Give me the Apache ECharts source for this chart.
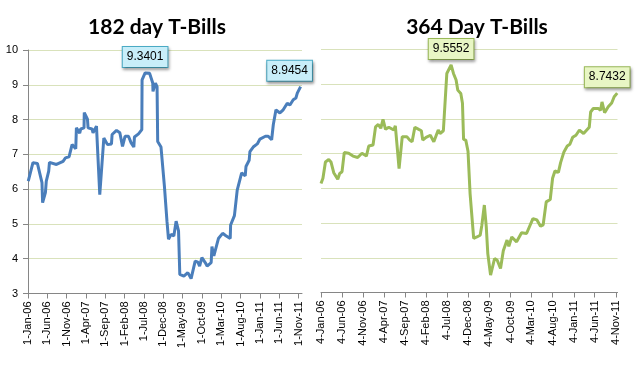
<!DOCTYPE html>
<html><head><meta charset="utf-8">
<script src="https://cdn.jsdelivr.net/npm/echarts@6/dist/echarts.min.js"></script>
<style>html,body{margin:0;padding:0;background:#fff}#c{width:640px;height:366px}</style>
</head><body><div id="c"></div>
<script>
const leftTitle = '182 day T-Bills';
const rightTitle = '364 Day T-Bills';

const leftDates = [
'2006-01-03','2006-02-09','2006-03-16','2006-04-21','2006-04-26','2006-05-18','2006-05-25','2006-06-13','2006-06-19','2006-08-13','2006-10-04','2006-10-23','2006-11-20','2006-12-14',
'2007-01-12','2007-01-17','2007-02-12','2007-02-20','2007-03-18','2007-03-20','2007-04-14','2007-04-19','2007-05-20','2007-05-28','2007-06-24','2007-07-20','2007-08-21','2007-09-19','2007-10-20','2007-10-25','2007-11-29','2007-12-25','2007-12-30',
'2008-01-15','2008-02-04','2008-03-02','2008-03-23','2008-04-13','2008-04-18','2008-05-20','2008-06-15','2008-06-17','2008-07-11','2008-08-15','2008-09-09','2008-09-11','2008-09-30','2008-10-13','2008-10-18','2008-11-13','2008-12-10','2008-12-30',
'2009-01-11','2009-02-01','2009-02-22','2009-03-12','2009-03-31','2009-04-10','2009-05-12','2009-06-12','2009-07-08','2009-08-09','2009-08-30','2009-09-13','2009-10-01','2009-10-27','2009-11-11','2009-12-13','2009-12-19',
'2010-01-03','2010-02-08','2010-03-13','2010-04-08','2010-05-12','2010-05-15','2010-06-14','2010-07-06','2010-08-10','2010-09-07','2010-09-13','2010-10-08','2010-10-14','2010-11-09','2010-12-11',
'2011-01-01','2011-02-13','2011-03-07','2011-04-03','2011-04-16','2011-05-07','2011-06-07','2011-07-03','2011-08-04','2011-08-25','2011-09-20','2011-10-11','2011-10-22','2011-11-17'
];
const leftValues = [
6.23,6.76,6.74,6.19,5.61,5.90,6.23,6.52,6.77,6.71,6.80,6.90,6.93,7.28,
7.16,7.76,7.61,7.73,7.76,8.20,8.01,7.76,7.73,7.62,7.81,5.84,7.47,7.28,7.30,7.57,7.69,7.62,7.57,
7.23,7.52,7.52,7.33,7.21,7.50,7.59,7.71,9.14,9.3401,9.33,9.05,8.81,9.05,8.95,7.37,7.21,6.08,5.08,
4.56,4.70,4.65,5.08,4.80,3.55,3.50,3.60,3.43,3.93,3.90,3.79,4.03,3.89,3.79,3.89,4.35,
4.08,4.58,4.73,4.66,4.58,4.97,5.24,5.97,6.47,6.38,6.65,6.83,7.08,7.21,7.30,
7.44,7.52,7.52,7.42,7.85,8.28,8.19,8.28,8.47,8.42,8.57,8.62,8.76,8.9454
];

const rightDates = [
'2006-01-04','2006-01-18','2006-02-05','2006-03-01','2006-03-17','2006-04-06','2006-05-05','2006-05-19','2006-06-05','2006-06-21','2006-07-23','2006-08-23','2006-09-26','2006-10-27','2006-11-28','2006-12-15',
'2007-01-15','2007-02-02','2007-02-22','2007-03-12','2007-03-28','2007-04-15','2007-05-09','2007-06-14','2007-06-25','2007-07-22','2007-08-14','2007-09-16','2007-10-07','2007-10-24','2007-11-13','2007-12-11','2007-12-30',
'2008-01-09','2008-02-02','2008-03-04','2008-03-29','2008-04-30','2008-05-13','2008-06-06','2008-07-01','2008-08-01','2008-08-18','2008-09-06','2008-09-18','2008-10-10','2008-10-22','2008-10-30','2008-11-15','2008-12-01','2008-12-16',
'2009-01-11','2009-02-03','2009-02-27','2009-03-11','2009-03-29','2009-04-12','2009-04-23','2009-05-13','2009-06-11','2009-06-30','2009-07-24','2009-08-13','2009-09-09','2009-09-22','2009-10-13','2009-11-17','2009-12-23',
'2010-01-28','2010-03-15','2010-04-13','2010-05-09','2010-05-28','2010-06-19','2010-07-18','2010-08-04','2010-08-21','2010-09-15','2010-10-01','2010-10-25','2010-11-18','2010-12-07','2010-12-27',
'2011-01-20','2011-02-14','2011-03-16','2011-04-26','2011-05-06','2011-05-25','2011-06-30','2011-07-17','2011-07-27','2011-08-15','2011-09-10','2011-10-05','2011-10-23','2011-11-14'
];
const rightValues = [
6.14,6.29,6.76,6.83,6.76,6.45,6.26,6.43,6.48,7.03,7.01,6.93,6.89,7.01,6.93,7.22,
7.25,7.77,7.84,7.73,7.99,7.70,7.76,7.68,7.80,6.57,7.49,7.49,7.39,7.34,7.76,7.70,7.66,
7.39,7.47,7.53,7.34,7.68,7.58,7.66,9.31,9.5552,9.31,9.12,8.83,8.73,8.45,7.41,7.39,7.07,5.85,
4.56,4.60,4.65,4.94,5.52,4.89,4.12,3.50,3.98,3.93,3.69,4.20,4.51,4.33,4.60,4.46,4.72,
4.70,5.13,5.09,4.91,4.95,5.61,5.68,6.29,6.50,6.46,6.74,7.05,7.22,7.27,7.47,
7.53,7.68,7.58,7.76,8.20,8.30,8.30,8.25,8.49,8.18,8.35,8.46,8.64,8.7432
];

const leftTicks = ['2006-01-01','2006-06-01','2006-11-01','2007-04-01','2007-09-01','2008-02-01','2008-07-01','2008-12-01','2009-05-01','2009-10-01','2010-03-01','2010-08-01','2011-01-01','2011-06-01','2011-11-01'];
const rightTicks = ['2006-01-04','2006-06-04','2006-11-04','2007-04-04','2007-09-04','2008-02-04','2008-07-04','2008-12-04','2009-05-04','2009-10-04','2010-03-04','2010-08-04','2011-01-04','2011-06-04','2011-11-04'];
const leftRange = ['2006-01-01','2011-11-28'];
const rightRange = ['2006-01-04','2011-11-16'];
const yMin = 3, yMax = 10, yStep = 1;

const MONTHS = ['Jan','Feb','Mar','Apr','May','Jun','Jul','Aug','Sep','Oct','Nov','Dec'];
const DAY = 86400000;
// days since 2006-01-01 (UTC based, no DST issues)
function dn(s){const p=s.split('-');return Math.round(Date.UTC(+p[0],+p[1]-1,+p[2])/DAY - Date.UTC(2006,0,1)/DAY);}
function fmt(v){const d=new Date(Date.UTC(2006,0,1)+Math.round(v)*DAY);return d.getUTCDate()+'-'+MONTHS[d.getUTCMonth()]+'-'+String(d.getUTCFullYear()).slice(2);}

const FONT = 'Liberation Sans';
const AXIS = '#868686';
const GRIDC = '#d9e2bb';

function callouts(dates, values, offsets, bg, border){
  let maxI = 0;
  values.forEach((v,i)=>{ if(v>values[maxI]) maxI=i; });
  const idxs = [maxI, values.length-1];
  return idxs.map((i,k)=>({
    coord:[dn(dates[i]), values[i]],
    value: values[i].toFixed(4),
    symbol:'circle', symbolSize:0,
    label:{
      show:true, position:'top', distance:6, offset:[offsets[k],0],
      formatter:'{c}', color:'#000', fontSize:12, fontFamily:FONT,
      backgroundColor:bg, borderColor:border, borderWidth:1,
      padding:[3,4,3,4], lineHeight:14,
      shadowColor:'rgba(0,0,0,0.35)', shadowBlur:3, shadowOffsetX:1, shadowOffsetY:2
    }
  }));
}

function xAxis(gi, ticks, range){
  const t = ticks.map(dn);
  return {
    gridIndex:gi, type:'value', min:dn(range[0]), max:dn(range[1]),
    axisLine:{show:true, onZero:false, lineStyle:{color:AXIS, width:1}},
    axisTick:{show:true, length:5, customValues:t, lineStyle:{color:AXIS}},
    axisLabel:{customValues:t, rotate:90, formatter:fmt, fontSize:11, color:'#000', fontFamily:FONT, margin:8, hideOverlap:false},
    splitLine:{show:false}, minorTick:{show:false}
  };
}

const chart = echarts.init(document.getElementById('c'), null, {renderer:'canvas'});
chart.setOption({
  animation:false,
  backgroundColor:'#fff',
  graphic:[
    {type:'text', x:157, y:27, style:{text:leftTitle, fill:'#000', font:'bold 21px Lato', textAlign:'center', textVerticalAlign:'middle'}},
    {type:'text', x:477, y:27, style:{text:rightTitle, fill:'#000', font:'bold 21px Lato', textAlign:'center', textVerticalAlign:'middle'}}
  ],
  grid:[
    {left:28, top:50, width:274, height:243.5},
    {left:321, top:49.5, width:296.5, height:243}
  ],
  xAxis:[ xAxis(0, leftTicks, leftRange), xAxis(1, rightTicks, rightRange) ],
  yAxis:[
    {gridIndex:0, type:'value', min:yMin, max:yMax, interval:yStep,
     axisLine:{show:true, lineStyle:{color:AXIS}},
     axisTick:{show:true, length:5, lineStyle:{color:AXIS}},
     axisLabel:{fontSize:11, color:'#000', fontFamily:FONT, margin:10},
     splitLine:{show:true, lineStyle:{color:GRIDC, width:1}}},
    {gridIndex:1, type:'value', min:yMin, max:yMax, interval:yStep,
     axisLine:{show:false}, axisTick:{show:false}, axisLabel:{show:false},
     splitLine:{show:true, lineStyle:{color:GRIDC, width:1}}}
  ],
  series:[
    {type:'line', xAxisIndex:0, yAxisIndex:0, showSymbol:false, symbol:'none',
     data:leftDates.map((d,i)=>[dn(d), leftValues[i]]),
     lineStyle:{color:'#4a7ebb', width:3}, itemStyle:{color:'#4a7ebb'},
     markPoint:{data:callouts(leftDates, leftValues, [0,-11], '#c8eef9', '#4bacc6')}},
    {type:'line', xAxisIndex:1, yAxisIndex:1, showSymbol:false, symbol:'none',
     data:rightDates.map((d,i)=>[dn(d), rightValues[i]]),
     lineStyle:{color:'#9bbb59', width:3}, itemStyle:{color:'#9bbb59'},
     markPoint:{data:callouts(rightDates, rightValues, [0,-10], '#e8f6c4', '#9bbb59')}}
  ]
});
</script></body></html>
